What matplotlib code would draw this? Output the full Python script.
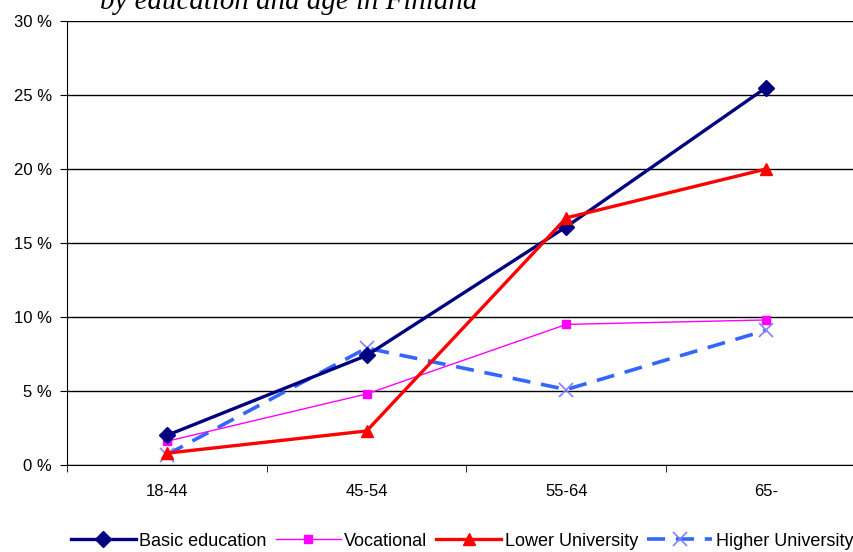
import matplotlib
matplotlib.use("Agg")
import matplotlib.pyplot as plt
from matplotlib.ticker import FixedLocator

# ─── Data ─────────────────────────────────────────────────────────────────────
age_groups = ["18-44", "45-54", "55-64", "65-"]
basic      = [2.0, 7.4, 16.1, 25.5]
vocational = [1.6, 4.8, 9.5, 9.8]
lower_univ = [0.8, 2.3, 16.7, 20.0]
higher_univ = [0.7, 7.9, 5.1, 9.1]

plt.rcParams["font.family"] = ["Liberation Sans", "DejaVu Sans"]

fig = plt.figure(figsize=(8.54, 5.52), dpi=100)
ax = fig.add_axes([67 / 854, 87 / 552, 799 / 854, 444 / 552])

x = [i + 0.5 for i in range(len(age_groups))]

ax.plot(x, basic, color="#000080", lw=2.4, marker="D", ms=8,
        label="Basic education", zorder=4)
ax.plot(x, vocational, color="#FF00FF", lw=1, marker="s", ms=6,
        label="Vocational", zorder=3)
ax.plot(x, lower_univ, color="#FF0000", lw=2.4, marker="^", ms=9,
        label="Lower University", zorder=5)
ax.plot(x, higher_univ, color="#3366FF", lw=2.6, ls=(0, (5, 3)),
        marker="x", ms=10, mec="#8080FF", mew=1.2,
        label="Higher University", zorder=2)

ax.set_xlim(0, 4)
ax.set_ylim(0, 30)
ax.set_yticks(range(0, 31, 5))
ax.set_yticklabels([f"{v} %" for v in range(0, 31, 5)], fontsize=12)
ax.set_xticks(x)
ax.set_xticklabels(age_groups, fontsize=12)
ax.xaxis.set_minor_locator(FixedLocator([0, 1, 2, 3, 4]))
ax.tick_params(axis="x", which="major", length=0, pad=14)
ax.tick_params(axis="x", which="minor", length=5, direction="out")
ax.tick_params(axis="y", length=5, direction="out", pad=6)

ax.yaxis.grid(True, color="black", lw=1)
ax.set_axisbelow(True)
for s in ["top", "right"]:
    ax.spines[s].set_visible(False)
ax.spines["left"].set_color("black")
ax.spines["bottom"].set_color("black")

# title clipped at the top edge, as in the source
fig.text(100 / 854, 1 - 9 / 552, "by education and age in Finland",
         fontsize=20.8, style="italic", family="Liberation Serif",
         ha="left", va="baseline")

fig.legend(loc="center", bbox_to_anchor=(462 / 854, 1 - 541 / 552), ncol=4,
           frameon=False, fontsize=13, handlelength=3.6, columnspacing=0.5,
           handletextpad=0.2)

fig.savefig("out.png", dpi=100)
